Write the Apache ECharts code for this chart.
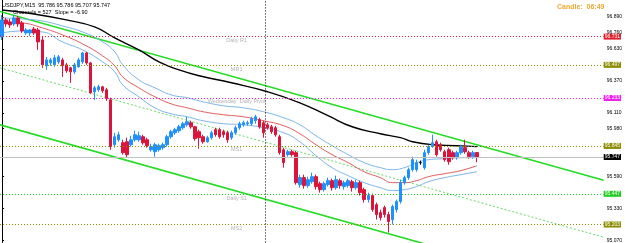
<!DOCTYPE html>
<html>
<head>
<meta charset="utf-8">
<title>USDJPY M15</title>
<script src="https://cdn.jsdelivr.net/npm/echarts@6/dist/echarts.min.js"></script>
<style>
  html, body { margin: 0; padding: 0; background: #fff; }
  #chart { width: 625px; height: 243px; }
</style>
</head>
<body>
<div id="chart"></div>
<script>
// candles: [open, close, low, high], one per M15 bar (index = position)
const candles = [
  [96.727, 96.866, 96.703, 96.906], [96.866, 96.833, 96.809, 96.882], [96.849, 96.825, 96.801, 96.874],
  [96.833, 96.882, 96.817, 96.906], [96.882, 96.833, 96.809, 96.898], [96.841, 96.776, 96.760, 96.857],
  [96.760, 96.784, 96.744, 96.801], [96.760, 96.784, 96.735, 96.792], [96.792, 96.760, 96.744, 96.809],
  [96.784, 96.687, 96.622, 96.801], [96.703, 96.500, 96.476, 96.727], [96.492, 96.540, 96.459, 96.565],
  [96.516, 96.540, 96.492, 96.557], [96.500, 96.557, 96.484, 96.581], [96.524, 96.565, 96.508, 96.581],
  [96.540, 96.492, 96.402, 96.557], [96.500, 96.451, 96.435, 96.516], [96.476, 96.443, 96.354, 96.484],
  [96.443, 96.500, 96.427, 96.516], [96.484, 96.540, 96.476, 96.557], [96.524, 96.597, 96.508, 96.606],
  [96.597, 96.516, 96.500, 96.606], [96.516, 96.272, 96.264, 96.524], [96.281, 96.313, 96.215, 96.329],
  [96.297, 96.321, 96.281, 96.337], [96.321, 96.289, 96.272, 96.329], [96.297, 96.224, 96.207, 96.313],
  [96.215, 95.834, 95.809, 96.232], [95.850, 95.915, 95.826, 95.947], [95.890, 95.931, 95.874, 95.956],
  [95.866, 95.785, 95.769, 95.890], [95.874, 95.769, 95.744, 95.907], [95.850, 95.890, 95.834, 95.923],
  [95.890, 95.931, 95.874, 95.964], [95.890, 95.923, 95.874, 95.956], [95.915, 95.866, 95.850, 95.931],
  [95.890, 95.842, 95.826, 95.907], [95.809, 95.834, 95.793, 95.858], [95.793, 95.850, 95.753, 95.866],
  [95.809, 95.842, 95.793, 95.858], [95.826, 95.850, 95.809, 95.866], [95.850, 95.915, 95.834, 95.931],
  [95.915, 95.956, 95.899, 95.972], [95.947, 95.972, 95.931, 95.988], [95.964, 95.996, 95.947, 96.012],
  [95.988, 96.021, 95.972, 96.037], [96.012, 96.037, 95.996, 96.077], [96.029, 95.996, 95.980, 96.045],
  [95.996, 95.899, 95.882, 96.004], [95.956, 95.907, 95.817, 95.972], [95.915, 95.874, 95.858, 95.931],
  [95.874, 95.907, 95.866, 95.923], [95.907, 95.947, 95.890, 95.964], [95.972, 95.931, 95.915, 95.988],
  [95.972, 95.915, 95.899, 95.988], [95.956, 95.931, 95.907, 95.972], [95.947, 95.890, 95.866, 95.964],
  [95.907, 95.947, 95.890, 95.964], [95.947, 95.988, 95.931, 96.004], [95.988, 96.021, 95.972, 96.037],
  [96.012, 96.029, 95.996, 96.045], [96.021, 96.029, 96.004, 96.045], [96.021, 96.061, 96.004, 96.077],
  [96.045, 96.077, 96.021, 96.094], [96.053, 95.996, 95.980, 96.069], [96.029, 95.947, 95.907, 96.045],
  [96.012, 95.988, 95.972, 96.029], [95.996, 95.956, 95.939, 96.012], [95.988, 95.931, 95.915, 96.004],
  [95.915, 95.785, 95.769, 95.931], [95.809, 95.704, 95.663, 95.826], [95.769, 95.793, 95.753, 95.809],
  [95.793, 95.769, 95.753, 95.809], [95.785, 95.541, 95.525, 95.801], [95.525, 95.582, 95.500, 95.606],
  [95.582, 95.517, 95.492, 95.606], [95.517, 95.565, 95.500, 95.590], [95.549, 95.590, 95.533, 95.622],
  [95.590, 95.509, 95.484, 95.606], [95.533, 95.484, 95.460, 95.549], [95.484, 95.533, 95.468, 95.549],
  [95.525, 95.557, 95.509, 95.582], [95.557, 95.500, 95.476, 95.574], [95.500, 95.565, 95.484, 95.598],
  [95.557, 95.517, 95.492, 95.574], [95.509, 95.541, 95.484, 95.557], [95.517, 95.557, 95.500, 95.574],
  [95.549, 95.500, 95.468, 95.565], [95.500, 95.541, 95.484, 95.565], [95.541, 95.460, 95.436, 95.557],
  [95.484, 95.403, 95.379, 95.500], [95.403, 95.436, 95.379, 95.460], [95.436, 95.322, 95.304, 95.452],
  [95.362, 95.281, 95.240, 95.379], [95.297, 95.257, 95.232, 95.322], [95.338, 95.281, 95.257, 95.354],
  [95.281, 95.224, 95.135, 95.304], [95.240, 95.346, 95.200, 95.362], [95.322, 95.387, 95.297, 95.403],
  [95.387, 95.541, 95.370, 95.565], [95.541, 95.582, 95.525, 95.598], [95.582, 95.647, 95.565, 95.663],
  [95.647, 95.728, 95.630, 95.753], [95.647, 95.704, 95.630, 95.728], [95.704, 95.704, 95.687, 95.720],
  [95.663, 95.785, 95.647, 95.809], [95.785, 95.834, 95.769, 95.850], [95.834, 95.866, 95.826, 95.931],
  [95.874, 95.769, 95.753, 95.890], [95.850, 95.809, 95.793, 95.866], [95.793, 95.728, 95.712, 95.809],
  [95.809, 95.712, 95.687, 95.826], [95.785, 95.744, 95.728, 95.801], [95.744, 95.785, 95.728, 95.801],
  [95.785, 95.834, 95.769, 95.850], [95.826, 95.793, 95.777, 95.890], [95.785, 95.753, 95.736, 95.801],
  [95.753, 95.785, 95.736, 95.801], [95.786, 95.747, 95.707, 95.786]
]

// moving averages, [bar index, price]
const maSlow = [
  [0, 96.947], [8, 96.914], [16, 96.866], [23, 96.809], [28, 96.719], [34, 96.622], [39, 96.524],
  [44, 96.459], [49, 96.411], [57, 96.354], [66, 96.281], [74, 96.191], [81, 96.086], [87, 95.996],
  [94, 95.939], [99, 95.907], [102, 95.874], [107, 95.850], [113, 95.842], [118, 95.834]
]
const maFast = [
  [0, 96.849], [5, 96.841], [10, 96.801], [15, 96.744], [20, 96.671], [25, 96.573], [28, 96.492],
  [30, 96.402], [34, 96.313], [38, 96.240], [42, 96.183], [46, 96.150], [50, 96.118], [55, 96.094],
  [60, 96.077], [65, 96.045], [70, 96.004], [74, 95.939], [78, 95.850], [82, 95.769], [86, 95.704],
  [90, 95.630], [94, 95.582], [97, 95.541], [100, 95.541], [103, 95.557], [106, 95.590], [110, 95.614],
  [114, 95.639], [118, 95.679]
]
const bandUpper = [
  [0, 96.882], [5, 96.874], [10, 96.857], [15, 96.817], [20, 96.768], [25, 96.687], [28, 96.606],
  [30, 96.500], [34, 96.378], [38, 96.313], [42, 96.256], [46, 96.232], [50, 96.199], [55, 96.167],
  [60, 96.150], [65, 96.118], [70, 96.069], [74, 96.012], [78, 95.923], [82, 95.842], [86, 95.769],
  [90, 95.704], [94, 95.663], [97, 95.647], [100, 95.663], [103, 95.704], [106, 95.728], [110, 95.736],
  [114, 95.744], [118, 95.744]
]
const bandLower = [
  [0, 96.760], [5, 96.776], [10, 96.768], [15, 96.687], [20, 96.622], [25, 96.524], [28, 96.443],
  [30, 96.337], [34, 96.240], [38, 96.150], [42, 96.102], [46, 96.077], [50, 96.045], [55, 96.021],
  [60, 96.012], [65, 95.988], [70, 95.947], [74, 95.874], [78, 95.761], [82, 95.663], [86, 95.598],
  [90, 95.541], [94, 95.500], [97, 95.476], [100, 95.484], [103, 95.509], [106, 95.549], [110, 95.582],
  [114, 95.606], [118, 95.630]
]

// regression channel
const channelUpper = [[-0.5, 96.935], [149.5, 95.560]]
const channelMiddle = [[-0.5, 96.476], [149.5, 95.097]]
const channelLower = [[-0.5, 96.012], [149.5, 94.634]]

const yTicks = [96.890, 96.760, 96.630, 96.370, 96.110, 95.980, 95.590, 95.330, 95.070]
const levelNames = ['Daily R1', 'MR1', 'Wednesday  Daily Pivot', 'MS1', 'Daily S1', 'MS2']
const levelPrices = [96.731, 96.497, 96.233, 95.845, 95.447, 95.203]
const lastPrice = 95.747
const daySeparator = 65.5
const labelBar = 58.3

const levelColors = ['#e0202a', '#8c8c00', '#ee22ee', '#8c8c00', '#22cc22', '#8c8c00']
const font = 'Liberation Sans, Arial, sans-serif'

const chart = echarts.init(document.getElementById('chart'))

const levelLines = levelPrices.map((p, k) => ({
  yAxis: p,
  lineStyle: { color: levelColors[k], type: [1, 2], width: 1 },
  label: {
    show: true,
    position: 'end',
    distance: 0,
    formatter: p.toFixed(3),
    backgroundColor: levelColors[k],
    color: '#fff',
    fontSize: 5,
    fontFamily: font,
    padding: [1, 1, 0, 1]
  }
}))
levelLines.push({
  yAxis: lastPrice,
  lineStyle: { color: '#c0c0c0', type: 'solid', width: 1 },
  label: {
    show: true,
    position: 'end',
    distance: 0,
    formatter: lastPrice.toFixed(3),
    backgroundColor: '#000',
    color: '#fff',
    fontSize: 5,
    fontFamily: font,
    padding: [1, 1, 0, 1]
  }
})
levelLines.push({
  xAxis: daySeparator,
  lineStyle: { color: '#000', type: [1, 2], width: 1 },
  label: { show: false }
})

const lineSeries = (data, color, width, type, smooth) => ({
  type: 'line',
  data: data,
  symbol: 'none',
  smooth: smooth,
  silent: true,
  lineStyle: { color: color, width: width, type: type || 'solid' },
  z: 3
})

const option = {
  animation: false,
  backgroundColor: '#fff',
  grid: { left: 0, right: 19, top: 0, bottom: 0 },
  graphic: [
    { type: 'text', left: 2, top: 2, style: { text: 'USDJPY,M15  95.786 95.786 95.707 95.747', fontSize: 5.5, fontFamily: font, fill: '#000' } },
    { type: 'text', left: 13, top: 9, style: { text: 'Channels = 527  Slope = -6.90', fontSize: 5.5, fontFamily: font, fill: '#000' } },
    { type: 'text', left: 557, top: 4, style: { text: 'Candle:  06:49', fontSize: 7, fontWeight: 'bold', fontFamily: font, fill: '#f0a830' } }
  ],
  xAxis: {
    type: 'value',
    min: -0.5,
    max: 149.5,
    show: false
  },
  yAxis: {
    type: 'value',
    position: 'right',
    min: 95.054,
    max: 97.028,
    scale: true,
    splitLine: { show: false },
    axisLine: { show: true, lineStyle: { color: '#000', width: 1 } },
    axisTick: { show: true, length: 2, customValues: yTicks, lineStyle: { color: '#000' } },
    axisLabel: {
      customValues: yTicks,
      formatter: v => v.toFixed(3),
      fontSize: 5,
      fontFamily: font,
      color: '#000',
      margin: 3
    }
  },
  series: [
    {
      type: 'line',
      data: [],
      silent: true,
      markLine: {
        silent: true,
        symbol: ['none', 'none'],
        animation: false,
        data: levelLines
      },
      z: 1
    },
    {
      type: 'scatter',
      data: levelPrices.map((p, k) => [labelBar, p, levelNames[k]]),
      symbolSize: 0,
      silent: true,
      label: {
        show: true,
        position: 'bottom',
        distance: 1,
        formatter: d => d.value[2],
        color: '#a0a0a0',
        fontSize: 5.5,
        fontFamily: font
      },
      z: 2
    },
    lineSeries(channelMiddle, '#66dd66', 1, [2, 2], false),
    lineSeries(channelUpper, '#22dd22', 1.6, 'solid', false),
    lineSeries(channelLower, '#22dd22', 1.6, 'solid', false),
    lineSeries(bandUpper, '#79b4ea', 1, 'solid', true),
    lineSeries(bandLower, '#79b4ea', 1, 'solid', true),
    lineSeries(maFast, '#e05a5a', 1, 'solid', true),
    lineSeries(maSlow, '#000000', 1.4, 'solid', true),
    {
      type: 'candlestick',
      data: candles.map((c, i) => [i, c[0], c[1], c[2], c[3]]),
      encode: { x: 0, y: [1, 2, 3, 4] },
      barWidth: 3,
      silent: true,
      itemStyle: {
        color: '#1e90ff',
        color0: '#dc143c',
        borderColor: '#1e90ff',
        borderColor0: '#dc143c',
        borderColorDoji: '#000',
        borderWidth: 1
      },
      z: 4
    }
  ]
}

chart.setOption(option)
</script>
</body>
</html>
